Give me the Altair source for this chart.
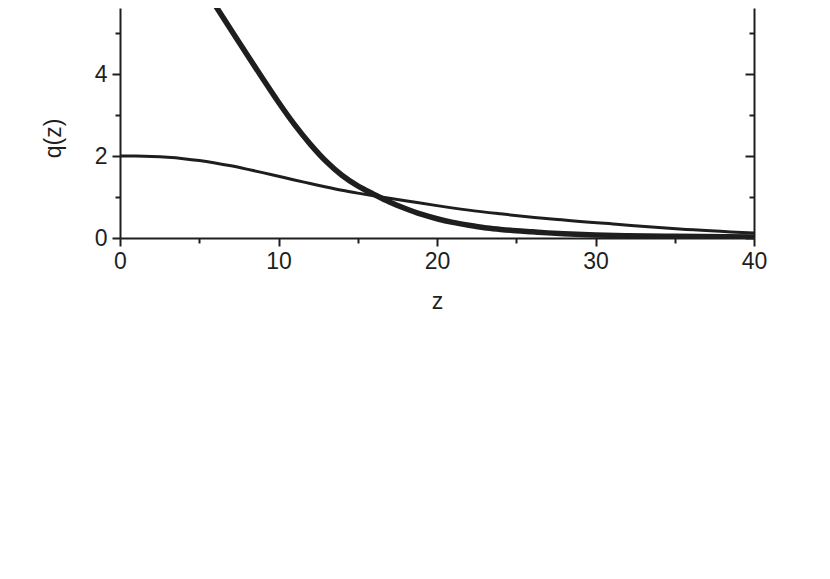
import altair as alt
import pandas as pd

# thin curve
z_thin = [0, 1, 2, 3, 4, 5, 6, 7, 8, 9, 10, 11, 12, 13, 14, 15, 16, 17, 18, 20, 22, 24, 27.6, 31.5, 35.3, 40]
q_thin = [2.0, 1.997, 1.987, 1.967, 1.935, 1.89, 1.83, 1.76, 1.68, 1.595, 1.505, 1.415, 1.33, 1.245, 1.165, 1.095,
          1.03, 0.97, 0.91, 0.79, 0.68, 0.59, 0.45, 0.33, 0.22, 0.12]

# thick curve
z_thick = [5, 6, 7, 8, 9, 10, 11, 12, 13, 14, 15, 16, 17, 18, 19, 20, 21, 22, 23, 24, 25, 26, 27, 28,
           30, 32, 35, 40]
q_thick = [6.27, 5.68, 5.08, 4.48, 3.89, 3.31, 2.77, 2.29, 1.87, 1.53, 1.27, 1.07, 0.88, 0.72, 0.58,
           0.47, 0.38, 0.31, 0.25, 0.21, 0.175, 0.15, 0.125, 0.105, 0.075, 0.055, 0.04, 0.025]

y_ticks = [0, 1, 2, 3, 4, 5]
x_ticks = [0, 5, 10, 15, 20, 25, 30, 35, 40]

df_thin = pd.DataFrame({"z": z_thin, "q": q_thin})
df_thick = pd.DataFrame({"z": z_thick, "q": q_thick})

W, H = 634, 230
YMAX = 230 / 41
INK = "#1e1e1e"
FONT = "Liberation Sans"
FS = 23

x_scale = alt.Scale(domain=[0, 40], nice=False, zero=False)
y_scale = alt.Scale(domain=[0, YMAX], nice=False, zero=False)

x_axis = alt.Axis(
    values=x_ticks,
    labelExpr="datum.value % 10 === 0 ? datum.label : ''",
    tickSize={"condition": {"test": "datum.value % 10 === 0", "value": 8}, "value": 5},
    title="z", titleX=W / 2, titleY=70, titleBaseline="alphabetic",
    grid=False, domainWidth=2, tickWidth=2, domainColor=INK, tickColor=INK,
    labelColor=INK, titleColor=INK, labelFont=FONT, titleFont=FONT,
    labelFontSize=FS, titleFontSize=FS, titleFontWeight="normal", labelPadding=4,
    labelFlush=False, labelOverlap=False,
)

y_axis_left = alt.Axis(
    values=y_ticks,
    labelExpr="datum.value % 2 === 0 ? datum.label : ''",
    tickSize={"condition": {"test": "datum.value % 2 === 0", "value": 8}, "value": 5},
    title="q(z)", titleAngle=270, titleX=-60, titleY=130, titleBaseline="alphabetic",
    titleAlign="center",
    grid=False, domainWidth=2, tickWidth=2, domainColor=INK, tickColor=INK,
    labelColor=INK, titleColor=INK, labelFont=FONT, titleFont=FONT,
    labelFontSize=FS, titleFontSize=FS, titleFontWeight="normal", labelPadding=5,
    labelFlush=False, labelOverlap=False,
)

y_axis_right = alt.Axis(
    orient="left", offset=-W,
    values=y_ticks, labels=False, title=None,
    tickSize={"condition": {"test": "datum.value % 2 === 0", "value": 9}, "value": 5},
    grid=False, domainWidth=2, tickWidth=2, domainColor=INK, tickColor=INK,
)

thin = alt.Chart(df_thin).mark_line(color=INK, strokeWidth=3, interpolate="monotone", clip=True).encode(
    x=alt.X("z:Q", scale=x_scale, axis=x_axis),
    y=alt.Y("q:Q", scale=y_scale, axis=y_axis_left),
)

thick = alt.Chart(df_thick).mark_line(color=INK, strokeWidth=5.5, interpolate="monotone", clip=True).encode(
    x=alt.X("z:Q", scale=x_scale),
    y=alt.Y("q:Q", scale=y_scale, axis=y_axis_right),
)

chart = alt.layer(thin, thick).resolve_scale(y="independent").properties(
    width=W, height=H,
    background="white",
    autosize=alt.AutoSizeParams(type="none"),
    padding={"left": 112, "top": 0, "right": 68, "bottom": 300},
).configure_view(strokeWidth=0, stroke="transparent")

chart.save("out.html", embed_options={"renderer": "svg", "actions": False})
